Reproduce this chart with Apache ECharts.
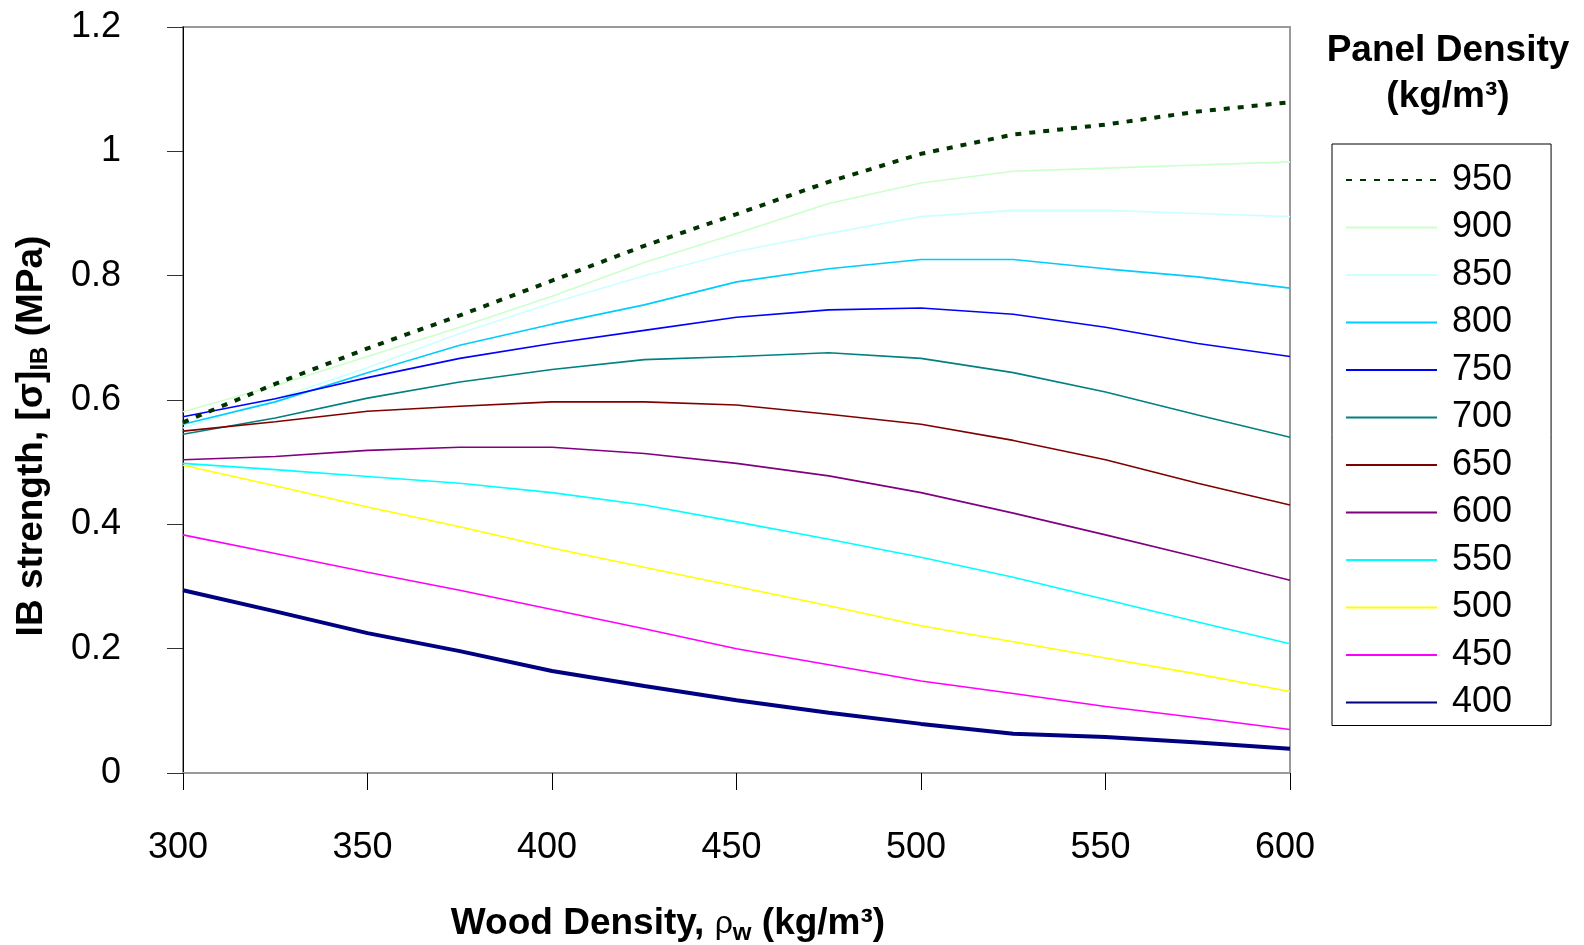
<!DOCTYPE html>
<html>
<head>
<meta charset="utf-8">
<script src="https://cdn.jsdelivr.net/npm/echarts@6/dist/echarts.min.js"></script>
<style>
html,body{margin:0;padding:0;background:#fff;}
#chart{width:1584px;height:945px;}
</style>
</head>
<body>
<div id="chart"></div>
<script>
// Wood density (kg/m3)
const woodDensity = [300, 325, 350, 375, 400, 425, 450, 475, 500, 525, 550, 575, 600];
// IB strength (MPa) for each panel density
const panel950 = [0.564, 0.626, 0.683, 0.736, 0.792, 0.848, 0.899, 0.951, 0.996, 1.027, 1.043, 1.064, 1.079];
const panel900 = [0.581, 0.623, 0.670, 0.717, 0.767, 0.821, 0.868, 0.916, 0.949, 0.968, 0.973, 0.978, 0.983];
const panel850 = [0.555, 0.602, 0.652, 0.707, 0.756, 0.800, 0.839, 0.868, 0.895, 0.905, 0.905, 0.900, 0.895];
const panel800 = [0.561, 0.597, 0.644, 0.688, 0.722, 0.753, 0.790, 0.811, 0.826, 0.826, 0.811, 0.798, 0.780];
const panel750 = [0.573, 0.602, 0.636, 0.667, 0.691, 0.712, 0.733, 0.745, 0.748, 0.738, 0.717, 0.691, 0.670];
const panel700 = [0.545, 0.571, 0.603, 0.629, 0.649, 0.665, 0.670, 0.676, 0.667, 0.644, 0.613, 0.576, 0.540];
const panel650 = [0.550, 0.565, 0.582, 0.590, 0.597, 0.597, 0.592, 0.577, 0.561, 0.535, 0.504, 0.466, 0.431];
const panel600 = [0.504, 0.509, 0.519, 0.524, 0.524, 0.514, 0.498, 0.478, 0.451, 0.418, 0.383, 0.347, 0.310];
const panel550 = [0.498, 0.488, 0.477, 0.466, 0.451, 0.431, 0.404, 0.376, 0.347, 0.315, 0.279, 0.243, 0.208];
const panel500 = [0.495, 0.462, 0.428, 0.396, 0.362, 0.331, 0.300, 0.269, 0.237, 0.211, 0.185, 0.159, 0.131];
const panel450 = [0.383, 0.353, 0.323, 0.294, 0.263, 0.232, 0.200, 0.174, 0.148, 0.128, 0.107, 0.089, 0.070];
const panel400 = [0.294, 0.260, 0.225, 0.196, 0.164, 0.140, 0.117, 0.097, 0.079, 0.063, 0.058, 0.049, 0.039];
const seriesNames = ['950', '900', '850', '800', '750', '700', '650', '600', '550', '500', '450', '400'];
const seriesValues = [panel950, panel900, panel850, panel800, panel750, panel700, panel650, panel600, panel550, panel500, panel450, panel400];
const xTicks = [300, 350, 400, 450, 500, 550, 600];
const yTicks = [0, 0.2, 0.4, 0.6, 0.8, 1, 1.2];

const colors = ['#003300', '#CCFFCC', '#CCFFFF', '#00CCFF', '#0000FF', '#008080', '#800000', '#800080', '#00FFFF', '#FFFF00', '#FF00FF', '#000080'];
const FONT = 'Liberation Sans';

const series = seriesNames.map((name, i) => {
  const isDash = name === '950';
  const isThick = name === '400';
  return {
    name: name,
    type: 'line',
    symbol: 'none',
    z: isDash ? 5 : 2,
    data: woodDensity.map((x, j) => [x, seriesValues[i][j]]),
    lineStyle: {
      color: colors[i],
      width: isDash ? 4 : (isThick ? 4 : 1.6),
      type: isDash ? [6, 8] : 'solid'
    },
    itemStyle: { color: colors[i] }
  };
});

const chart = echarts.init(document.getElementById('chart'));
chart.setOption({
  animation: false,
  backgroundColor: '#fff',
  grid: {
    left: 183, right: 294, top: 27, bottom: 172,
    show: true, borderColor: '#999', borderWidth: 2, backgroundColor: 'transparent'
  },
  xAxis: {
    type: 'value', min: 300, max: 600, interval: 50,
    axisLine: { show: true, lineStyle: { color: '#999', width: 2 } },
    axisTick: { show: true, inside: false, length: 17, lineStyle: { color: '#000', width: 1 } },
    axisLabel: { show: true, margin: 57, fontFamily: FONT, fontSize: 36, color: '#000', padding: [0, 10, 0, 0] },
    splitLine: { show: false }
  },
  yAxis: {
    type: 'value', min: 0, max: 1.2, interval: 0.2,
    axisLine: { show: true, lineStyle: { color: '#000', width: 1 } },
    axisTick: { show: true, inside: false, length: 16, lineStyle: { color: '#333', width: 1 } },
    axisLabel: { show: true, margin: 62, fontFamily: FONT, fontSize: 36, color: '#000', padding: [0, 0, 12, 0],
      formatter: v => String(Math.round(v * 10) / 10) },
    splitLine: { show: false }
  },
  legend: {
    orient: 'vertical',
    left: 1332, top: 144,
    data: seriesNames,
    itemWidth: 91, itemHeight: 14, itemGap: 11.5,
    padding: [18, 39, 5, 13],
    borderColor: '#000', borderWidth: 1,
    backgroundColor: '#fff',
    selectedMode: false,
    itemStyle: { opacity: 0 },
    textStyle: { fontFamily: FONT, fontSize: 36, lineHeight: 36, color: '#000', padding: [0, 0, 0, 10] }
  },
  graphic: [
    {
      type: 'text',
      style: {
        x: 1448, y: 51, text: 'Panel Density', textAlign: 'center', textVerticalAlign: 'middle',
        font: 'bold 37px "Liberation Sans"', fill: '#000'
      }
    },
    {
      type: 'text',
      style: {
        x: 1448, y: 97, text: '(kg/m³)', textAlign: 'center', textVerticalAlign: 'middle',
        font: 'bold 37px "Liberation Sans"', fill: '#000'
      }
    },
    {
      type: 'text',
      x: 668, y: 924,
      style: {
        text: '{a|Wood Density, }{r|ρ}{s|w}{a| (kg/m³)}',
        align: 'center', verticalAlign: 'middle',
        rich: {
          a: { fontFamily: FONT, fontSize: 37, fontWeight: 'bold', color: '#000', lineHeight: 38 },
          r: { fontFamily: FONT, fontSize: 32, fontWeight: 'normal', color: '#000', lineHeight: 38 },
          s: { fontFamily: FONT, fontSize: 24, fontWeight: 'bold', color: '#000', padding: [18, 0, 0, 0] }
        }
      }
    },
    {
      type: 'text',
      x: 32, y: 436, rotation: Math.PI / 2,
      style: {
        text: '{a|IB strength, [σ]}{s|IB}{a| (MPa)}',
        align: 'center', verticalAlign: 'middle',
        rich: {
          a: { fontFamily: FONT, fontSize: 37, fontWeight: 'bold', color: '#000', lineHeight: 38 },
          s: { fontFamily: FONT, fontSize: 24, fontWeight: 'bold', color: '#000', padding: [16, 0, 0, 0] }
        }
      }
    }
  ],
  series: series
});
</script>
</body>
</html>
